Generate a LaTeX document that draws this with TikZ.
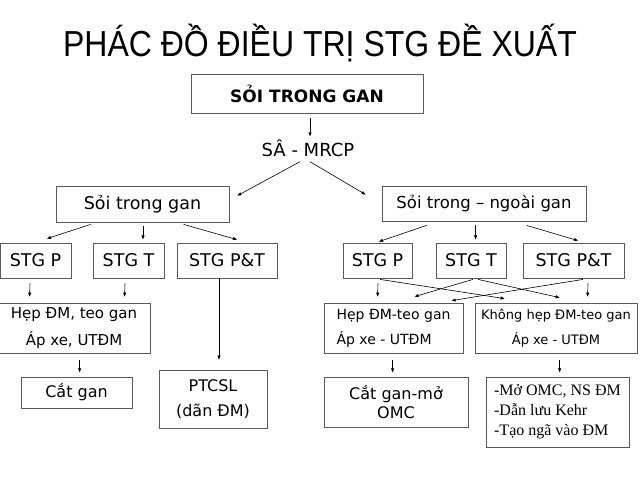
\documentclass[tikz,border=0pt]{standalone}
\usepackage{fontspec}
\setmainfont{DejaVu Sans}
\newfontfamily\titlefont{Liberation Sans}
\newfontfamily\seriffont{Liberation Serif}
\usetikzlibrary{arrows.meta,calc}
\begin{document}
\begin{tikzpicture}[x=1pt,y=-1pt,
  box/.style={draw=black!65,line width=0.8pt,inner sep=0pt,align=center},
  wh/.style 2 args={minimum width=#1pt,minimum height=#2pt},
  fs/.style 2 args={font=\fontsize{#1}{#2}\selectfont},
  arr/.style={-{Triangle[length=4pt,width=3pt]},line width=0.6pt,black}]
\useasboundingbox (0,0) rectangle (640,480);
\fill[white] (0,0) rectangle (640,480);

% title
\node[font=\titlefont\fontsize{32}{36}\selectfont,anchor=base,inner sep=0pt] (title) at (320,56) {\scalebox{1}[1.13]{PHÁC ĐỒ ĐIỀU TRỊ STG ĐỀ XUẤT}};

% level 0
\node[box,wh={232}{39},font=\bfseries\fontsize{17}{20}\selectfont] (top) at (307,93.5) {SỎI TRONG GAN};
\node[fs={18}{20},inner sep=1pt] (sa) at (308,148) {SÂ - MRCP};

% level 1
\node[box,wh={173}{36},fs={17.5}{20}] (L1) at (142.5,204) {Sỏi trong gan};
\node[box,wh={204}{35},fs={16.5}{20}] (R1) at (484,203.5) {Sỏi trong – ngoài gan};

% level 2
\node[box,wh={71}{35},fs={17.5}{20}] (LP) at (35.5,260.5) {STG P};
\node[box,wh={71}{35},fs={17.5}{20}] (LT) at (128.5,260.5) {STG T};
\node[box,wh={100}{35},fs={17.5}{20}] (LPT) at (227,260.5) {STG P\&T};
\node[box,wh={69}{35},fs={17.5}{20}] (RP) at (377.5,260.5) {STG P};
\node[box,wh={70}{35},fs={17.5}{20}] (RT) at (471,260.5) {STG T};
\node[box,wh={101}{35},fs={17.5}{20}] (RPT) at (573.5,260.5) {STG P\&T};

% level 3
\node[box,wh={152}{50},fs={15}{27}] (LH) at (74,328) {Hẹp ĐM, teo gan\\Áp xe, UTĐM};
\node[box,wh={108}{58},fs={16}{25}] (PT) at (213,399) {PTCSL\\(dãn ĐM)};
\node[box,wh={139}{50},fs={14}{25},align=left] (RH) at (393.5,328) {Hẹp ĐM-teo gan\\Áp xe - UTĐM};
\node[box,wh={162}{50},fs={13}{25}] (RK) at (556,328) {Không hẹp ĐM-teo gan\\Áp xe - UTĐM};

% level 4
\node[box,wh={111}{31},fs={16}{20}] (CG) at (76.5,392.5) {Cắt gan};
\node[box,wh={144}{50},fs={16}{19}] (RC) at (396,402) {Cắt gan-mở\\OMC};
\node[box,wh={143}{70},font=\seriffont\fontsize{16}{20}\selectfont,align=left] (RL) at (557.5,412) {-Mở OMC, NS ĐM\\-Dẫn lưu Kehr\\-Tạo ngã vào ĐM};

% arrows
\draw[arr] ($(top.south)+(3,5)$) -- ($(sa.north)+(2,-2)$);
\draw[arr] ($(sa.south)+(-8,4)$) -- ($(L1.north east)+(8,10)$);
\draw[arr] ($(sa.south)+(2,4)$) -- ($(R1.north west)+(-16,9)$);

\draw[arr] ($(L1.south west)+(35,2)$) -- ($(LP.north)+(11.5,-4)$);
\draw[arr] ($(L1.south)+(0.5,4)$) -- ($(L1.south)+(0.5,17)$);
\draw[arr] ($(L1.south west)+(128,2)$) -- ($(LPT.north)+(10,-3)$);

\draw[arr] ($(R1.south west)+(45,4)$) -- ($(RP.north)+(1.5,-1)$);
\draw[arr] ($(R1.south west)+(94,4)$) -- ($(R1.south west)+(94,18)$);
\draw[arr] ($(R1.south west)+(145,4)$) -- ($(RPT.north)+(4.5,-2)$);

\draw[arr] ($(LP.south)+(-5.5,5)$) -- ($(LH.north west)+(32,-6)$);
\draw[arr] ($(LT.south)+(-3.5,5)$) -- ($(LH.north west)+(127,-6)$);
\draw[arr] ($(LPT.south)+(-8,0)$) -- ($(PT.north)+(6,-10)$);
\draw[arr] ($(LH.south west)+(82,7)$) -- ($(LH.south west)+(82,19)$);

\draw[arr] ($(RP.south)+(0.5,5)$) -- ($(RH.north west)+(54,-6)$);
\draw[arr] ($(RP.south)+(2.5,1)$) -- ($(RK.north west)+(30,-4)$);
\draw[arr] ($(RT.south)+(2,1)$) -- ($(RH.north west)+(91,-6)$);
\draw[arr] ($(RT.south)+(7,1)$) -- ($(RK.north west)+(85,-5)$);
\draw[arr] ($(RPT.south)+(9.5,1)$) -- ($(RH.north west)+(128,-2)$);
\draw[arr] ($(RPT.south)+(14.5,5)$) -- ($(RK.north west)+(113,-6)$);

\draw[arr] ($(RH.south west)+(69,7)$) -- ($(RH.south west)+(69,19)$);
\draw[arr] ($(RK.south west)+(85,7)$) -- ($(RK.south west)+(85,19)$);
\end{tikzpicture}
\end{document}
